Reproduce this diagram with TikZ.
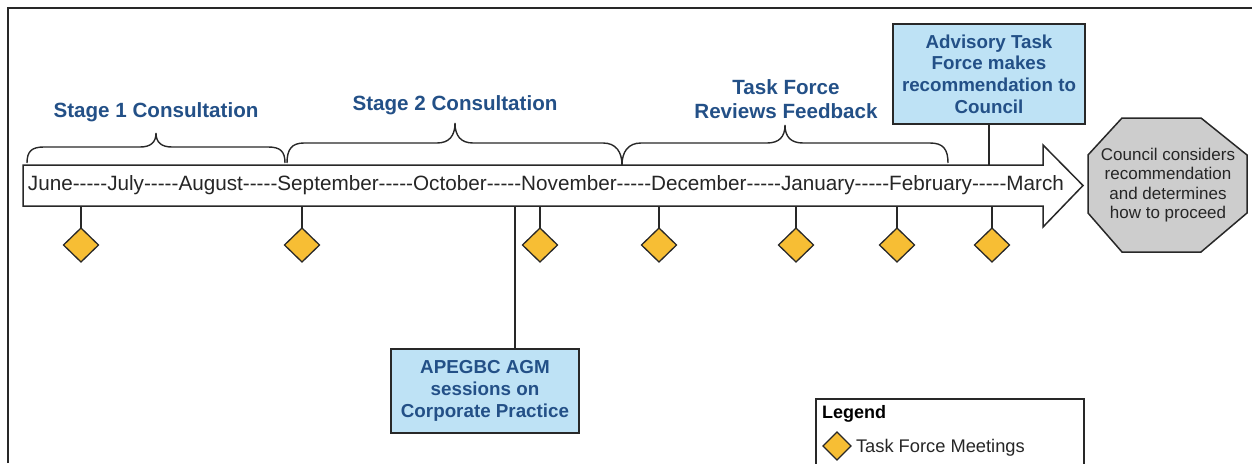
\documentclass[tikz,border=0pt]{standalone}
\usepackage{fontspec}
\newfontfamily\lib{Liberation Sans}
\usetikzlibrary{shapes.geometric}
\definecolor{tblue}{RGB}{35,80,135}
\definecolor{boxblue}{RGB}{190,226,245}
\definecolor{dyellow}{RGB}{247,190,52}
\definecolor{octgray}{RGB}{205,205,205}
\definecolor{lin}{RGB}{40,40,40}
\newcommand{\fsz}[2]{\fontsize{#1}{#2}\selectfont}
\newcommand{\hy}{-\kern0pt-\kern0pt-\kern0pt-\kern0pt-\kern0pt}
\begin{document}
\begin{tikzpicture}[x=1pt,y=-1pt,
 every node/.style={inner sep=0pt, outer sep=0pt},
 lnk/.style={draw=lin, line width=1.5pt},
 meet/.style={shape=diamond, draw=lin, line width=1.3pt, fill=dyellow, minimum width=35pt, minimum height=34pt},
 infobox/.style={draw=lin, line width=1.5pt, fill=boxblue, text=tblue, align=center},
 stagelbl/.style={text=tblue, font=\lib\bfseries\fsz{20.6}{24}, align=center},
 brc/.style={draw=lin, line width=1.4pt}]
\useasboundingbox (0,0) rectangle (1252,463);
% frame
\draw[line width=2.5pt, draw=lin] (8,463) -- (8,8) -- (1252,8);
% arrow
\draw[lnk, fill=white] (23,165) -- (1043,165) -- (1043,145) -- (1083,185.5) -- (1043,227) -- (1043,206) -- (23,206) -- cycle;
\node[anchor=base, font=\lib\fsz{20.7}{24}, text=black!85] (months) at (546,190.5)
 {June\hy July\hy August\hy September\hy October\hy November\hy December\hy January\hy February\hy March};
% braces
\draw[brc] (27,163) .. controls (27,151) and (32,147) .. (44,147) -- (140,147)
  .. controls (150,147) and (156,143) .. (156,133) .. controls (156,143) and (162,147) .. (172,147)
  -- (268,147) .. controls (280,147) and (285,151) .. (285,163);
\draw[brc] (287,163) .. controls (287,149) and (292,143) .. (304,143) -- (437,143)
  .. controls (449,143) and (455,136) .. (455,123) .. controls (455,136) and (461,143) .. (473,143)
  -- (603,143) .. controls (616,143) and (622,152) .. (622,165);
\draw[brc] (622,165) .. controls (622,152) and (628,143) .. (641,143) -- (767,143)
  .. controls (779,143) and (785,137) .. (785,125) .. controls (785,137) and (791,143) .. (803,143)
  -- (930,143) .. controls (943,143) and (948,149) .. (948,163);
% stage labels
\node[stagelbl, anchor=base] (st1) at (156,117) {Stage 1 Consultation};
\node[stagelbl, anchor=base] (st2) at (455,110) {Stage 2 Consultation};
\node[stagelbl] (tfr) at (786,99) {Task Force\\Reviews Feedback};
% advisory box
\node[infobox, font=\lib\bfseries\fsz{18.75}{21.7}, minimum width=192pt, minimum height=100pt] (adv) at (989,74)
 {Advisory Task\\Force makes\\recommendation to\\Council};
\coordinate (advend) at (989,165);
\draw[lnk] (adv) -- (advend);
% APEGBC box
\node[infobox, font=\lib\bfseries\fsz{18.8}{22}, minimum width=188pt, minimum height=84pt] (agm) at (485,391)
 {APEGBC AGM\\sessions on\\Corporate Practice};
\coordinate (agmend) at (515,206);
\draw[lnk] (agmend) -- (agmend |- agm.north);
% council octagon
\draw[lnk, fill=octgray] (1122,118) -- (1201,118) -- (1247,155) -- (1247,213) -- (1201,252) -- (1122,252) -- (1088,213) -- (1088,155) -- cycle;
\node[font=\lib\fsz{17}{19.5}, align=center, text=black!85] (council) at (1168,185)
 {Council considers\\recommendation\\and determines\\how to proceed};
% diamonds
\foreach \i/\x in {1/81,2/302,3/540,4/659,5/796,6/897,7/992}{
  \coordinate (s\i) at (\x,206);
  \node[meet] (d\i) at (\x,245) {};
  \draw[lnk] (s\i) -- (d\i);
}
% legend
\draw[lnk] (816,470) -- (816,399) -- (1084,399) -- (1084,470);
\node[anchor=base west, font=\lib\bfseries\fsz{18}{22}] (leg) at (822,418) {Legend};
\node[meet, minimum width=28pt, minimum height=28pt] (ld) at (837,446) {};
\node[anchor=base west, font=\lib\fsz{18.3}{22}, text=black!85] (legt) at (856,452) {Task Force Meetings};
\end{tikzpicture}
\end{document}
